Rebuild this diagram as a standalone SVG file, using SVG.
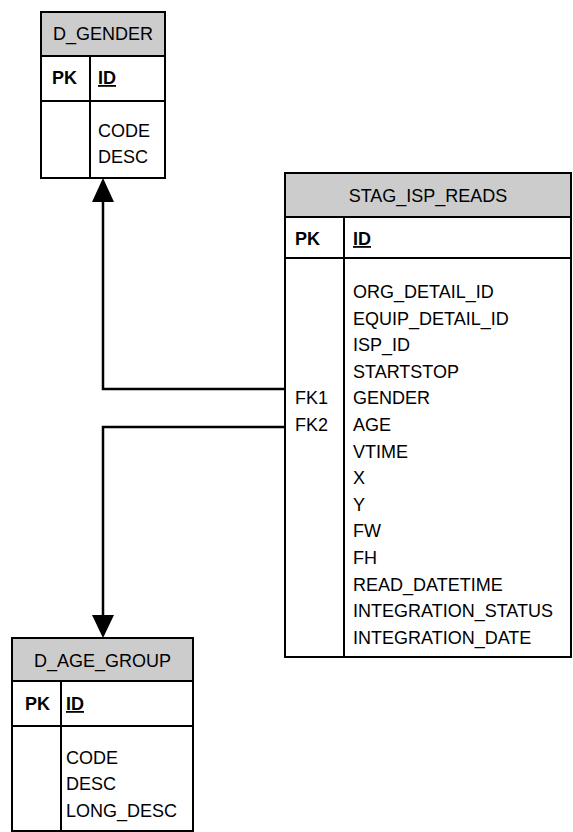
<svg xmlns="http://www.w3.org/2000/svg" width="573" height="832" viewBox="0 0 573 832">
  <style>
    .box { fill: #ffffff; stroke: #000000; stroke-width: 2; }
    .head { fill: #cccccc; stroke: #000000; stroke-width: 2; }
    .rule { stroke: #000000; stroke-width: 2; fill: none; }
    .conn { stroke: #000000; stroke-width: 2.5; fill: none; }
    .arrow { fill: #000000; stroke: none; }
    text { font-family: "Liberation Sans", Arial, sans-serif; font-size: 18px; fill: #000000; }
    .title { text-anchor: middle; }
    .key { font-weight: bold; }
    .pkcol { font-weight: bold; text-decoration: underline; }
  </style>

  <!-- relationships -->
  <g id="connectors">
    <polyline class="conn" points="285,389 103,389 103,200"/>
    <polygon class="arrow" points="103,178 92,202 114,202"/>
    <polyline class="conn" points="285,427 103,427 103,617"/>
    <polygon class="arrow" points="103,638 92,615 114,615"/>
  </g>

  <!-- D_GENDER -->
  <g id="d_gender">
    <rect class="box" x="41" y="12" width="124" height="166"/>
    <rect class="head" x="41" y="12" width="124" height="44"/>
    <line class="rule" x1="41" y1="101" x2="165" y2="101"/>
    <line class="rule" x1="90" y1="56" x2="90" y2="178"/>
    <text class="title" x="103" y="40">D_GENDER</text>
    <text class="key" x="52" y="84">PK</text>
    <text class="pkcol" x="98" y="84">ID</text>
    <text x="98" y="137">CODE</text>
    <text x="98" y="163">DESC</text>
  </g>

  <!-- STAG_ISP_READS -->
  <g id="stag_isp_reads">
    <rect class="box" x="285" y="173" width="286" height="484"/>
    <rect class="head" x="285" y="173" width="286" height="44"/>
    <line class="rule" x1="285" y1="258" x2="571" y2="258"/>
    <line class="rule" x1="344" y1="217" x2="344" y2="657"/>
    <text class="title" x="428" y="202">STAG_ISP_READS</text>
    <text class="key" x="295" y="245">PK</text>
    <text class="pkcol" x="353" y="245">ID</text>
    <text x="295" y="404">FK1</text>
    <text x="295" y="431">FK2</text>
    <text x="353" y="298">ORG_DETAIL_ID</text>
    <text x="353" y="324.6">EQUIP_DETAIL_ID</text>
    <text x="353" y="351.2">ISP_ID</text>
    <text x="353" y="377.8">STARTSTOP</text>
    <text x="353" y="404.4">GENDER</text>
    <text x="353" y="431">AGE</text>
    <text x="353" y="457.6">VTIME</text>
    <text x="353" y="484.2">X</text>
    <text x="353" y="510.8">Y</text>
    <text x="353" y="537.4">FW</text>
    <text x="353" y="564">FH</text>
    <text x="353" y="590.6">READ_DATETIME</text>
    <text x="353" y="617.2">INTEGRATION_STATUS</text>
    <text x="353" y="643.8">INTEGRATION_DATE</text>
  </g>

  <!-- D_AGE_GROUP -->
  <g id="d_age_group">
    <rect class="box" x="12" y="638" width="181" height="193"/>
    <rect class="head" x="12" y="638" width="181" height="43"/>
    <line class="rule" x1="12" y1="726" x2="193" y2="726"/>
    <line class="rule" x1="61" y1="681" x2="61" y2="831"/>
    <text class="title" x="102.5" y="667">D_AGE_GROUP</text>
    <text class="key" x="25" y="710">PK</text>
    <text class="pkcol" x="66" y="710">ID</text>
    <text x="66" y="764">CODE</text>
    <text x="66" y="790">DESC</text>
    <text x="66" y="817">LONG_DESC</text>
  </g>
</svg>
